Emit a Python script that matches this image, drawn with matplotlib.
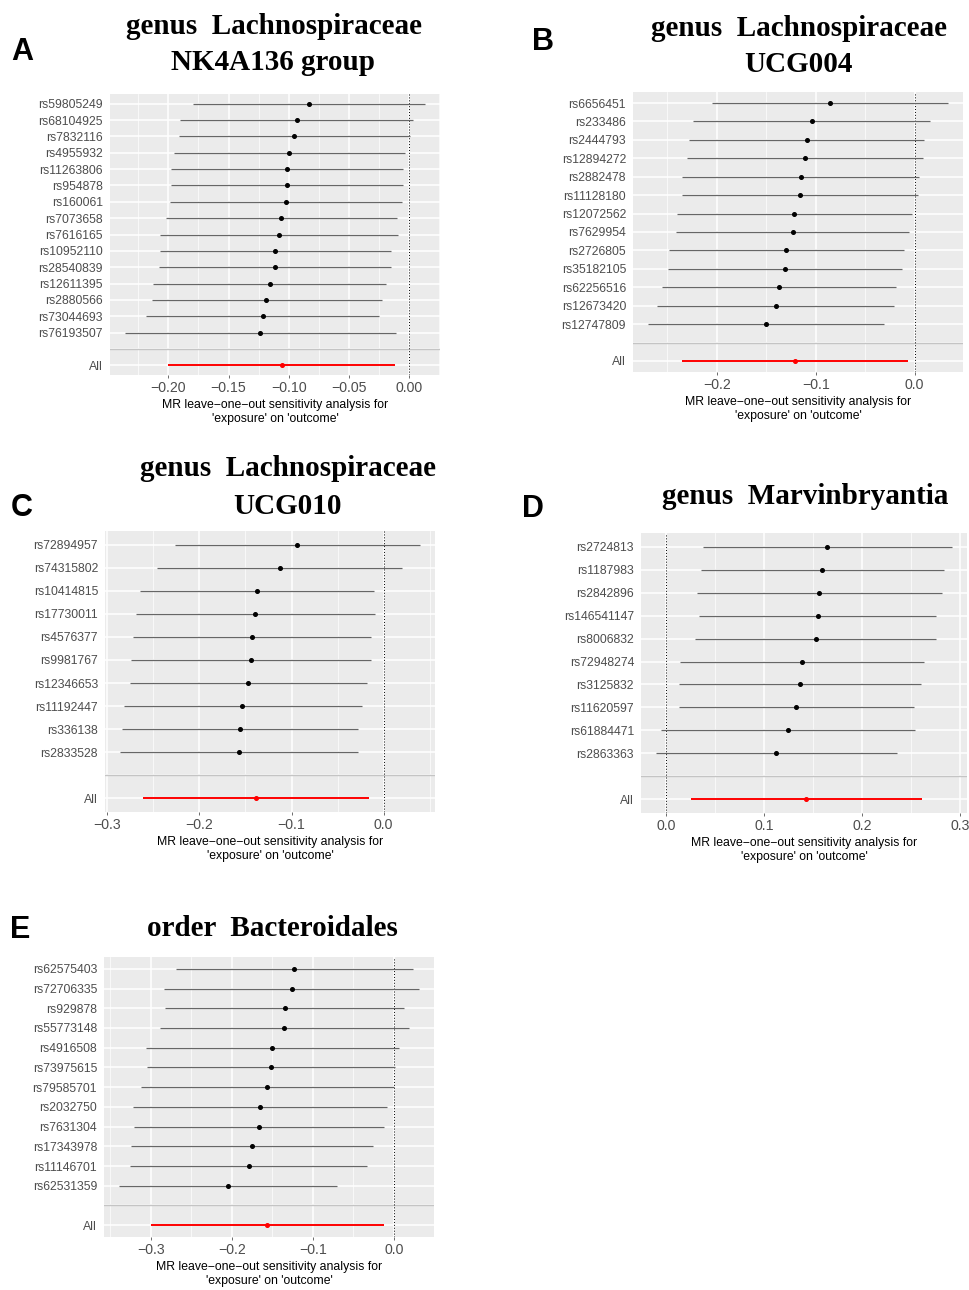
import matplotlib
matplotlib.use("Agg")
import matplotlib.pyplot as plt
import numpy as np

# ---------------- data ----------------
snps_a = ["rs59805249", "rs68104925", "rs7832116", "rs4955932", "rs11263806", "rs954878",
          "rs160061", "rs7073658", "rs7616165", "rs10952110", "rs28540839", "rs12611395",
          "rs2880566", "rs73044693", "rs76193507"]
beta_a = [-0.0831, -0.0933, -0.0953, -0.0994, -0.1014, -0.1014, -0.1025, -0.1061, -0.1080,
          -0.1111, -0.1114, -0.1158, -0.1186, -0.1217, -0.1236]
lo_a = [-0.1797, -0.1900, -0.1910, -0.1953, -0.1978, -0.1978, -0.1986, -0.2022, -0.2072,
        -0.2072, -0.2078, -0.2128, -0.2139, -0.2186, -0.2361]
hi_a = [0.0133, 0.0031, 0.0008, -0.0031, -0.0050, -0.0050, -0.0058, -0.0097, -0.0089,
        -0.0147, -0.0147, -0.0189, -0.0228, -0.0247, -0.0111]
all_a = [-0.1058, -0.2000, -0.0117]

snps_b = ["rs6656451", "rs233486", "rs2444793", "rs12894272", "rs2882478", "rs11128180",
          "rs12072562", "rs7629954", "rs2726805", "rs35182105", "rs62256516", "rs12673420",
          "rs12747809"]
beta_b = [-0.0853, -0.1042, -0.1093, -0.1113, -0.1150, -0.1157, -0.1218, -0.1234, -0.1298,
          -0.1309, -0.1369, -0.1406, -0.1501]
lo_b = [-0.2044, -0.2236, -0.2280, -0.2304, -0.2347, -0.2347, -0.2401, -0.2408, -0.2486,
        -0.2492, -0.2553, -0.2600, -0.2695]
hi_b = [0.0337, 0.0152, 0.0094, 0.0081, 0.0047, 0.0034, -0.0030, -0.0061, -0.0108,
        -0.0125, -0.0185, -0.0212, -0.0307]
all_b = [-0.1211, -0.2354, -0.0071]

snps_c = ["rs72894957", "rs74315802", "rs10414815", "rs17730011", "rs4576377", "rs9981767",
          "rs12346653", "rs11192447", "rs336138", "rs2833528"]
beta_c = [-0.0935, -0.1130, -0.1377, -0.1391, -0.1431, -0.1438, -0.1467, -0.1533, -0.1562, -0.1572]
lo_c = [-0.2261, -0.2457, -0.2649, -0.2692, -0.2725, -0.2743, -0.2757, -0.2822, -0.2841, -0.2862]
hi_c = [0.0395, 0.0199, -0.0105, -0.0094, -0.0138, -0.0138, -0.0178, -0.0236, -0.0279, -0.0279]
all_c = [-0.1388, -0.2616, -0.0156]

snps_d = ["rs2724813", "rs1187983", "rs2842896", "rs146541147", "rs8006832", "rs72948274",
          "rs3125832", "rs11620597", "rs61884471", "rs2863363"]
beta_d = [0.1645, 0.1593, 0.1559, 0.1546, 0.1525, 0.1386, 0.1365, 0.1328, 0.1243, 0.1120]
lo_d = [0.0371, 0.0354, 0.0310, 0.0334, 0.0293, 0.0140, 0.0129, 0.0129, -0.0051, -0.0109]
hi_d = [0.2921, 0.2833, 0.2812, 0.2751, 0.2758, 0.2632, 0.2601, 0.2530, 0.2540, 0.2353]
all_d = [0.1430, 0.0252, 0.2608]

snps_e = ["rs62575403", "rs72706335", "rs929878", "rs55773148", "rs4916508", "rs73975615",
          "rs79585701", "rs2032750", "rs7631304", "rs17343978", "rs11146701", "rs62531359"]
beta_e = [-0.1232, -0.1265, -0.1351, -0.1356, -0.1500, -0.1520, -0.1570, -0.1652, -0.1665,
          -0.1755, -0.1792, -0.2048]
lo_e = [-0.2695, -0.2843, -0.2827, -0.2892, -0.3061, -0.3049, -0.3123, -0.3218, -0.3210,
        -0.3247, -0.3255, -0.3395]
hi_e = [0.0235, 0.0309, 0.0128, 0.0185, 0.0058, 0.0008, -0.0004, -0.0087, -0.0119,
        -0.0260, -0.0330, -0.0700]
all_e = [-0.1562, -0.2995, -0.0124]

ticks_a = [-0.20, -0.15, -0.10, -0.05, 0.00]
ticks_b = [-0.2, -0.1, 0.0]
ticks_c = [-0.3, -0.2, -0.1, 0.0]
ticks_d = [0.0, 0.1, 0.2, 0.3]
ticks_e = [-0.3, -0.2, -0.1, 0.0]

xlabel_text = "MR leave\u2212one\u2212out sensitivity analysis for\n'exposure' on 'outcome'"

# ---------------- figure ----------------
W, H = 969, 1290
fig = plt.figure(figsize=(W / 100, H / 100), dpi=100)
fig.patch.set_facecolor("white")

SANS = "Liberation Sans"
SERIF = "Liberation Serif"


def box(x0, y0, x1, y1):
    return [x0 / W, 1 - y1 / H, (x1 - x0) / W, (y1 - y0) / H]


def panel(rect, snps, beta, lo, hi, allv, ticks, fmt):
    ax = fig.add_axes(rect)
    ax.set_facecolor("#EBEBEB")
    n = len(snps)
    ypos = np.arange(n, 0, -1) + 2  # top SNP highest
    xmin = min(min(lo), allv[1], 0)
    xmax = max(max(hi), allv[2], 0)
    rng = xmax - xmin
    ax.set_xticks(ticks)
    ax.set_xticklabels([fmt.format(t).replace("-", "\u2212") for t in ticks])
    minors = [(ticks[i] + ticks[i + 1]) / 2 for i in range(len(ticks) - 1)]
    step = ticks[1] - ticks[0]
    minors = [ticks[0] - step / 2] + minors + [ticks[-1] + step / 2]
    ax.set_xticks(minors, minor=True)
    ax.set_yticks(list(ypos) + [2, 1])
    ax.set_yticklabels(list(snps) + ["", "All"])
    # limits after ticks (ggplot-like 5% expansion)
    ax.set_xlim(xmin - 0.05 * rng, xmax + 0.05 * rng)
    ax.set_ylim(0.4, n + 2.6)
    ax.grid(which="major", color="white", lw=1.1, zorder=0)
    ax.grid(which="minor", axis="x", color="white", lw=0.5, zorder=0)
    ax.set_axisbelow(True)
    for s in ax.spines.values():
        s.set_visible(False)
    ax.tick_params(axis="y", which="major", length=0, labelcolor="#4D4D4D",
                   labelsize=8.8, pad=5)
    ax.tick_params(axis="x", which="major", length=2.5, width=0.6, color="#555555",
                   labelcolor="#4D4D4D", labelsize=10.2, pad=2)
    ax.tick_params(which="minor", length=0)
    for lab in ax.get_xticklabels() + ax.get_yticklabels():
        lab.set_fontfamily(SANS)
    ax.axhline(2, color="#C4C4C4", lw=1.0, zorder=1)
    ax.axvline(0, color="black", lw=0.7, linestyle=(0, (1, 2)), zorder=2)
    ax.hlines(ypos, lo, hi, color="#666666", lw=0.9, zorder=3)
    ax.plot(beta, ypos, "o", color="black", ms=2.6, zorder=4)
    ax.hlines([1], [allv[1]], [allv[2]], color="#FF0000", lw=1.4, zorder=3)
    ax.plot([allv[0]], [1], "o", color="#FF0000", ms=2.6, zorder=4)
    ax.set_xlabel(xlabel_text, fontsize=8.8, family=SANS, color="black",
                  linespacing=1.15, labelpad=3)
    return ax


panel(box(110, 94, 440, 375), snps_a, beta_a, lo_a, hi_a, all_a, ticks_a, "{:.2f}")
panel(box(633, 92, 963, 372), snps_b, beta_b, lo_b, hi_b, all_b, ticks_b, "{:.1f}")
panel(box(105, 531, 435, 812), snps_c, beta_c, lo_c, hi_c, all_c, ticks_c, "{:.1f}")
panel(box(641, 533, 967, 813), snps_d, beta_d, lo_d, hi_d, all_d, ticks_d, "{:.1f}")
panel(box(104, 957, 434, 1237), snps_e, beta_e, lo_e, hi_e, all_e, ticks_e, "{:.1f}")

# titles
titles = [
    ("genus  Lachnospiraceae", 274, 27), ("NK4A136 group", 273, 63),
    ("genus  Lachnospiraceae", 799, 28), ("UCG004", 798, 64),
    ("genus  Lachnospiraceae", 288, 469), ("UCG010", 288, 506),
    ("genus  Marvinbryantia", 805, 496),
    ("order  Bacteroidales", 272, 928),
]
for txt, x, y in titles:
    fig.text(x / W, 1 - y / H, txt, family=SERIF, weight="bold", fontsize=21,
             ha="center", va="center")

letters = [("A", 22, 52), ("B", 543, 42), ("C", 22, 508), ("D", 533, 509), ("E", 20, 930)]
for txt, x, y in letters:
    fig.text(x / W, 1 - y / H, txt, family=SANS, weight="bold", fontsize=22,
             ha="center", va="center")

fig.savefig("out.png", dpi=100, facecolor="white")
